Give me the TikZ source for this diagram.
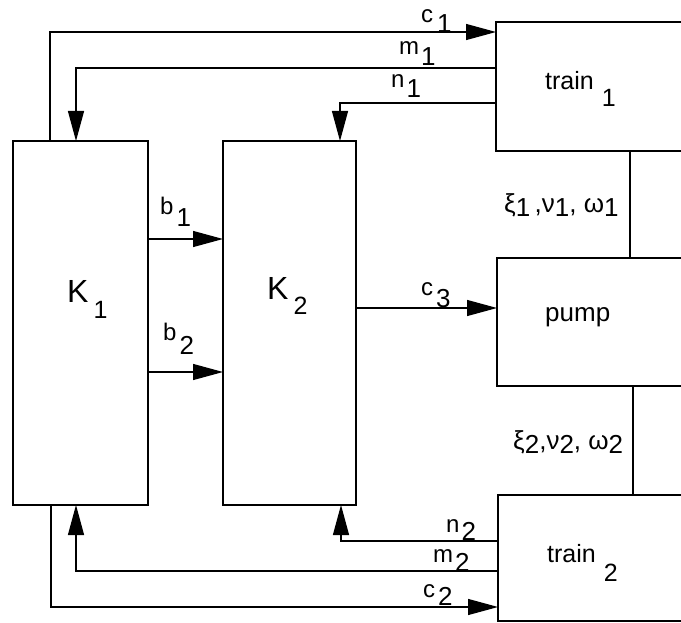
\documentclass[tikz,border=0pt]{standalone}
\usepackage{fontspec}
\setmainfont{Liberation Sans}
\usetikzlibrary{arrows.meta}
\newcommand\sbx[2]{\raisebox{-#1}{#2}}
\newcommand\dg[1]{{\fontsize{26}{26}\selectfont #1}}
\begin{document}
\begin{tikzpicture}[x=1pt,y=-1pt,
  box/.style={draw,line width=2.7pt,inner sep=0,outer sep=0,rectangle},
  conn/.style={line width=1.2pt},
  arr/.style={conn,-{Triangle[length=30pt,width=16pt]}},
  link/.style={line width=2.7pt},
  lbl/.style={font=\fontsize{24}{26}\selectfont,anchor=base west,inner sep=0},
  big/.style={font=\fontsize{25}{28}\selectfont,anchor=base west,inner sep=0}]
\useasboundingbox (0,0) rectangle (681,623);
\clip (0,0) rectangle (681,623);

% boxes
\node[box,minimum width=135pt,minimum height=364pt] (K1) at (80.5,323) {};
\node[box,minimum width=133pt,minimum height=364pt] (K2) at (289.5,323) {};
\node[box,minimum width=224pt,minimum height=129pt] (T1) at (608,86.5) {};
\node[box,minimum width=223pt,minimum height=128pt] (P) at (608.5,322) {};
\node[box,minimum width=222pt,minimum height=126pt] (T2) at (609,558) {};

% helper coordinates
\coordinate (c1a) at (50,32);
\coordinate (m1a) at (76,68);
\coordinate (n1a) at (340,103);
\coordinate (b1a) at (0,239);
\coordinate (b2a) at (0,372);
\coordinate (c3a) at (0,308);
\coordinate (l1) at (630,0);
\coordinate (l2) at (633,0);
\coordinate (n2a) at (341,541);
\coordinate (m2a) at (76,571);
\coordinate (c2a) at (51,607);

% connectors
\draw[arr] (K1.north -| c1a) |- (T1.west |- c1a);
\draw[arr] (T1.west |- m1a) -| (K1.north -| m1a);
\draw[arr] (T1.west |- n1a) -| (K2.north -| n1a);
\draw[arr] (K1.east |- b1a) -- (K2.west |- b1a);
\draw[arr] (K1.east |- b2a) -- (K2.west |- b2a);
\draw[arr] (K2.east |- c3a) -- (P.west |- c3a);
\draw[link] (T1.south -| l1) -- (P.north -| l1);
\draw[link] (P.south -| l2) -- (T2.north -| l2);
\draw[arr] (T2.west |- n2a) -| (K2.south -| n2a);
\draw[arr] (T2.west |- m2a) -| (K1.south -| m2a);
\draw[arr] (K1.south -| c2a) |- (T2.west |- c2a);

% labels
\node[lbl] (lc1) at (421,23) {c\hspace{4pt}\sbx{10pt}{\dg{1}}};
\node[lbl] (lm1) at (399,55) {m\hspace{2pt}\sbx{11pt}{\dg{1}}};
\node[lbl] (ln1) at (391,88) {n\hspace{2pt}\sbx{10pt}{\dg{1}}};
\node[lbl] (lb1) at (160,215) {b\hspace{3pt}\sbx{12pt}{\dg{1}}};
\node[lbl] (lb2) at (163,340) {b\hspace{3pt}\sbx{14pt}{\dg{2}}};
\node[lbl] (lc3) at (421,295) {c\hspace{3pt}\sbx{12pt}{\dg{3}}};
\node[lbl] (ln2) at (446,532) {n\hspace{2pt}\sbx{8pt}{\dg{2}}};
\node[lbl] (lm2) at (433,562) {m\hspace{2pt}\sbx{9pt}{\dg{2}}};
\node[lbl] (lc2) at (423,597) {c\hspace{3pt}\sbx{8pt}{\dg{2}}};
\node[anchor=base west,inner sep=0,font=\fontsize{32}{34}\selectfont] (lK1) at (67,302)
  {K\hspace{5pt}\sbx{16pt}{\fontsize{25}{25}\selectfont 1}};
\node[anchor=base west,inner sep=0,font=\fontsize{32}{34}\selectfont] (lK2) at (267,299)
  {K\hspace{5pt}\sbx{15pt}{\fontsize{25}{25}\selectfont 2}};
\node[big] (lt1) at (545,90) {train\hspace{8pt}\sbx{17pt}{1}};
\node[big] (lt2) at (547,562) {train\hspace{8pt}\sbx{19pt}{2}};
\node[big,font=\fontsize{26}{28}\selectfont] (lp) at (545,322) {pump};
\node[lbl,font=\fontsize{26}{28}\selectfont] (lx1) at (504,213)
  {ξ\sbx{4pt}{1}\,,ν\sbx{4pt}{1}, ω\sbx{4pt}{1}};
\node[lbl,font=\fontsize{26}{28}\selectfont] (lx2) at (513,449)
  {ξ\sbx{4pt}{2},ν\sbx{4pt}{2}, ω\sbx{4pt}{2}};
\end{tikzpicture}
\end{document}
